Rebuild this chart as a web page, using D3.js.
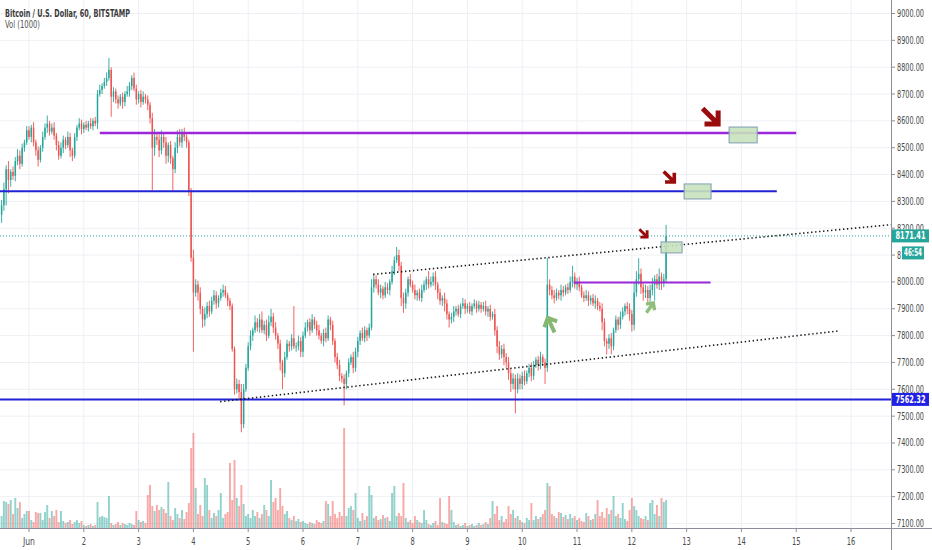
<!DOCTYPE html>
<html>
<head>
<meta charset="utf-8">
<script src="https://cdn.jsdelivr.net/npm/d3@7"></script>
<style>
  html, body { margin: 0; padding: 0; background: #fff; }
  svg { display: block; font-family: "Liberation Sans Narrow", "DejaVu Sans Condensed", "Liberation Sans", sans-serif; }
</style>
</head>
<body>
<div id="chart"></div>
<script>
// hourly candles, first one is May 31 12:00 (hour -12 from Jun 1 00:00)
const startHour = -12;
const firstOpen = 8250;
const lastPrice = 8171.41;
const supportPrice = 7562.32;
const countdown = '46:54';

const dayLabels = ['Jun', '2', '3', '4', '5', '6', '7', '8', '9', '10', '11', '12', '13', '14', '15', '16'];
const priceTicks = [7100, 7200, 7300, 7400, 7500, 7600, 7700, 7800, 7900, 8000,
    8100, 8200, 8300, 8400, 8500, 8600, 8700, 8800, 8900, 9000];

const closes = [
    [8285, 8345, 8420, 8380, 8410, 8395, 8450, 8470, 8440, 8500, 8520, 8565],
    [8540, 8575, 8520, 8490, 8455, 8500, 8540, 8575, 8590, 8560, 8575, 8545, 8510, 8470, 8500, 8530, 8510, 8540, 8490, 8470, 8540, 8575, 8590, 8570],
    [8585, 8575, 8590, 8580, 8600, 8590, 8700, 8715, 8730, 8745, 8760, 8790, 8690, 8710, 8680, 8665, 8690, 8670, 8700, 8710, 8730, 8760, 8720, 8680],
    [8700, 8670, 8690, 8680, 8660, 8610, 8500, 8540, 8530, 8490, 8540, 8520, 8470, 8510, 8460, 8420, 8500, 8540, 8520, 8555, 8540, 8520, 8340, 8090],
    [7960, 7990, 7960, 7900, 7860, 7880, 7910, 7890, 7930, 7950, 7920, 7940, 7960, 7970, 7950, 7930, 7910, 7750, 7600, 7620, 7590, 7470, 7600, 7680],
    [7760, 7800, 7820, 7850, 7830, 7860, 7820, 7840, 7800, 7850, 7870, 7830, 7800, 7770, 7700, 7660, 7720, 7770, 7760, 7790, 7760, 7760, 7780, 7740],
    [7800, 7830, 7850, 7820, 7860, 7840, 7820, 7800, 7780, 7810, 7790, 7860, 7840, 7780, 7720, 7690, 7650, 7640, 7620, 7660, 7700, 7720, 7680, 7740],
    [7780, 7810, 7790, 7820, 7800, 7830, 7980, 8010, 7990, 7960, 7975, 7950, 7980, 7970, 8000, 8040, 8080, 8100, 8060, 7940, 7920, 7960, 8010, 7990],
    [7970, 7950, 7960, 7940, 7970, 7990, 8010, 7990, 8000, 8020, 7990, 7960, 7930, 7940, 7920, 7880, 7860, 7870, 7890, 7900, 7880, 7910, 7920, 7900],
    [7910, 7890, 7910, 7920, 7900, 7915, 7900, 7910, 7890, 7900, 7870, 7880, 7820, 7760, 7730, 7750, 7720, 7700, 7660, 7620, 7640, 7600, 7640, 7620],
    [7650, 7630, 7660, 7680, 7650, 7690, 7710, 7690, 7720, 7700, 7680, 7990, 7970, 7950, 7940, 7960, 7950, 7970, 7960, 7980, 7970, 8000, 8020, 7990],
    [8000, 7980, 7950, 7940, 7950, 7930, 7940, 7920, 7930, 7910, 7900, 7850, 7780, 7770, 7790, 7760, 7820, 7860, 7840, 7870, 7890, 7910, 7900, 7880],
    [7840, 7960, 8010, 8030, 7980, 7960, 7970, 7940, 7970, 7990, 8010, 7990, 8020, 8000, 8010, 8171.41]
];

// wick length above the body / below the body, in dollars
const upperWicks = [
    [20, 25, 15, 30, 10, 20, 15, 25, 20, 15, 10, 15],
    [15, 10, 20, 10, 15, 10, 20, 15, 30, 10, 15, 20, 10, 15, 20, 15, 10, 20, 15, 10, 15, 10, 20, 15],
    [10, 15, 10, 20, 10, 15, 15, 20, 10, 15, 20, 44, 10, 15, 10, 15, 10, 15, 10, 20, 15, 10, 20, 15],
    [10, 15, 20, 10, 15, 10, 20, 30, 15, 20, 25, 15, 20, 10, 15, 10, 20, 25, 30, 15, 20, 10, 10, 10],
    [30, 20, 15, 20, 10, 25, 15, 20, 15, 20, 15, 10, 15, 20, 15, 10, 10, 10, 10, 20, 15, 30, 20, 15],
    [15, 20, 10, 25, 15, 20, 30, 15, 20, 25, 30, 15, 20, 10, 15, 10, 20, 15, 10, 15, 120, 15, 20, 15],
    [15, 20, 10, 15, 20, 10, 15, 20, 10, 15, 20, 15, 10, 15, 10, 15, 20, 10, 15, 10, 15, 10, 20, 15],
    [15, 10, 20, 15, 10, 15, 30, 20, 15, 20, 15, 10, 20, 15, 10, 20, 15, 30, 20, 15, 20, 15, 10, 20],
    [15, 20, 10, 15, 20, 15, 10, 30, 20, 15, 20, 10, 15, 10, 20, 15, 10, 15, 20, 10, 15, 10, 20, 15],
    [10, 15, 10, 15, 10, 15, 10, 15, 20, 10, 15, 10, 20, 15, 20, 15, 20, 15, 20, 15, 20, 15, 20, 15],
    [15, 20, 10, 15, 20, 15, 10, 15, 20, 10, 15, 100, 20, 15, 20, 15, 10, 20, 15, 10, 15, 20, 40, 15],
    [15, 20, 10, 15, 20, 15, 10, 15, 20, 10, 15, 20, 15, 10, 15, 20, 10, 15, 10, 20, 15, 10, 15, 20],
    [15, 40, 30, 58, 20, 15, 20, 15, 20, 25, 15, 20, 30, 15, 20, 41]
];

const lowerWicks = [
    [30, 20, 60, 50, 25, 15, 20, 15, 20, 10, 15, 10],
    [10, 20, 15, 20, 25, 10, 15, 10, 20, 15, 10, 15, 20, 15, 10, 20, 15, 10, 25, 20, 10, 15, 10, 20],
    [15, 10, 15, 10, 15, 10, 20, 10, 15, 10, 15, 10, 75, 20, 15, 20, 10, 25, 15, 10, 20, 15, 10, 20],
    [15, 20, 10, 15, 20, 20, 158, 30, 20, 25, 15, 20, 30, 25, 20, 85, 15, 20, 15, 20, 15, 20, 20, 15],
    [220, 15, 30, 20, 30, 25, 15, 20, 10, 15, 20, 15, 10, 15, 10, 20, 15, 10, 20, 15, 25, 30, 15, 10],
    [10, 15, 20, 10, 15, 20, 10, 15, 20, 10, 15, 20, 15, 20, 30, 60, 15, 10, 20, 15, 10, 20, 15, 20],
    [20, 10, 15, 20, 10, 15, 20, 15, 10, 20, 15, 10, 20, 15, 20, 15, 20, 15, 80, 20, 15, 10, 20, 15],
    [20, 15, 10, 15, 20, 10, 10, 20, 15, 10, 20, 15, 10, 15, 20, 10, 15, 10, 20, 30, 35, 20, 15, 10],
    [10, 15, 20, 10, 15, 10, 20, 15, 10, 15, 20, 25, 15, 20, 30, 20, 30, 15, 20, 15, 10, 15, 10, 20],
    [15, 10, 15, 10, 15, 10, 15, 10, 15, 20, 15, 10, 20, 25, 20, 15, 30, 20, 25, 30, 20, 90, 15, 20],
    [20, 15, 10, 15, 20, 15, 10, 20, 15, 10, 60, 15, 20, 15, 20, 10, 15, 20, 15, 10, 15, 10, 20, 15],
    [20, 15, 10, 15, 10, 20, 15, 10, 20, 15, 10, 30, 20, 40, 20, 30, 15, 10, 20, 15, 10, 15, 20, 25],
    [25, 20, 15, 20, 25, 30, 20, 25, 15, 20, 60, 15, 20, 30, 20, 10]
];

const volumes = [
    [12, 27, 26, 24, 28, 14, 30, 20, 26, 10, 14, 17],
    [17, 8, 6, 16, 15, 15, 8, 16, 23, 10, 17, 12, 18, 6, 17, 7, 5, 6, 8, 4, 6, 8, 5, 7],
    [3, 2, 3, 4, 2, 3, 26, 11, 12, 11, 10, 32, 5, 3, 4, 6, 3, 5, 4, 3, 5, 4, 3, 17],
    [8, 6, 7, 5, 33, 43, 22, 17, 23, 18, 21, 19, 15, 46, 12, 8, 20, 14, 10, 18, 9, 16, 25, 80],
    [95, 40, 14, 23, 12, 50, 43, 18, 10, 15, 12, 18, 35, 10, 14, 16, 65, 28, 68, 30, 22, 43, 24, 12],
    [14, 10, 18, 12, 16, 10, 14, 23, 18, 12, 48, 26, 30, 18, 40, 22, 14, 17, 10, 8, 12, 7, 9, 6],
    [7, 5, 4, 6, 5, 4, 8, 6, 5, 7, 27, 24, 12, 27, 14, 10, 16, 12, 100, 12, 20, 22, 18, 35],
    [10, 7, 15, 8, 12, 42, 33, 10, 12, 8, 9, 13, 10, 11, 7, 35, 42, 12, 15, 12, 45, 10, 6, 8],
    [5, 12, 8, 6, 5, 18, 8, 4, 3, 5, 7, 3, 30, 6, 5, 4, 32, 18, 6, 3, 4, 2, 3, 5],
    [2, 3, 4, 2, 3, 5, 3, 4, 6, 4, 10, 27, 14, 22, 8, 12, 6, 9, 22, 14, 18, 10, 12, 8],
    [6, 5, 10, 8, 25, 8, 12, 9, 11, 14, 18, 45, 42, 14, 12, 10, 16, 15, 11, 13, 9, 14, 10, 12],
    [8, 10, 7, 6, 15, 12, 8, 9, 14, 28, 12, 16, 10, 20, 14, 18, 32, 12, 14, 10, 25, 9, 7, 18],
    [30, 22, 18, 12, 10, 9, 12, 8, 25, 28, 14, 23, 12, 30, 26, 28]
];

// horizontal levels drawn on the chart: price, from hour, to hour (null = chart edge)
const levels = [
    { price: 8555, from: 31, to: 336, kind: 'purple' },
    { price: 8338, from: null, to: 327.5, kind: 'blue' },
    { price: 7998, from: 238.5, to: 298.5, kind: 'purpleThin' },
    { price: supportPrice, from: null, to: null, kind: 'blue' }
];

// channel lines: two points each (hour, price)
const channel = [
    { h1: 150.7, p1: 8028, h2: 293.9, p2: 8145, extend: true },
    { h1: 83.7, p1: 7554, h2: 355.2, p2: 7818, extend: false }
];

const boxes = [
    { h1: 306.6, h2: 318.9, top: 8577, bottom: 8518 },
    { h1: 286.9, h2: 298.7, top: 8365, bottom: 8309 },
    { h1: 276.8, h2: 286.0, top: 8149, bottom: 8108 }
];

// arrow tip (hour, price), direction in degrees on screen
const arrows = [
    { hour: 301.8, price: 8588, angle: 45, kind: 'bigRed' },
    { hour: 282.6, price: 8372, angle: 45, kind: 'red' },
    { hour: 270.7, price: 8167, angle: 45, kind: 'smallRed' },
    { hour: 227.2, price: 7866, angle: -115, kind: 'green' },
    { hour: 273.4, price: 7922, angle: -55, kind: 'smallGreen' }
];

class CandleChart {
    constructor(selector) {
        this.width = 932;
        this.height = 550;
        this.plotRight = 891;
        this.plotBottom = 528;

        this.upColor = '#26a69a';
        this.downColor = '#ef5350';

        this.candles = this.buildCandles();

        this.x = d3.scaleLinear().domain([-12.7, 377.5]).range([0, this.plotRight]);
        this.y = d3.scaleLinear().domain([7100, 9000]).range([523.5, 13.5]);
        this.vy = d3.scaleLinear().domain([0, 100]).range([this.plotBottom, this.plotBottom - 100]);

        this.svg = d3.select(selector)
            .append('svg')
            .attr('width', this.width)
            .attr('height', this.height);

        this.render();
    }

    buildCandles() {
        const c = closes.flat();
        const up = upperWicks.flat();
        const lo = lowerWicks.flat();
        const v = volumes.flat();
        return c.map((close, i) => {
            const open = i === 0 ? firstOpen : c[i - 1];
            return {
                h: startHour + i,
                open: open,
                close: close,
                high: Math.max(open, close) + up[i],
                low: Math.min(open, close) - lo[i],
                volume: v[i],
                up: close >= open
            };
        });
    }

    // the installed fonts are wider than the narrow face of the original, so squeeze text to width
    squeeze(sel, width) {
        return sel.attr('textLength', width).attr('lengthAdjust', 'spacingAndGlyphs');
    }

    render() {
        this.svg.append('defs').append('clipPath').attr('id', 'plotClip')
            .append('rect').attr('x', 0).attr('y', 0)
            .attr('width', this.plotRight).attr('height', this.plotBottom);

        this.plot = this.svg.append('g').attr('clip-path', 'url(#plotClip)');

        this.drawGrid();
        this.drawVolume();
        this.drawCandles();
        this.drawLevels();
        this.drawChannel();
        this.drawBoxes();
        this.drawArrows();
        this.drawAxes();
        this.drawHeader();
    }

    drawGrid() {
        const grid = this.plot.append('g');
        grid.selectAll('line.v')
            .data(dayLabels)
            .enter().append('line')
            .attr('x1', (d, i) => this.x(i * 24))
            .attr('x2', (d, i) => this.x(i * 24))
            .attr('y1', 0).attr('y2', this.plotBottom)
            .attr('stroke', '#eef0f5').attr('stroke-width', 1);

        grid.selectAll('line.h')
            .data(priceTicks)
            .enter().append('line')
            .attr('x1', 0).attr('x2', this.plotRight)
            .attr('y1', d => this.y(d)).attr('y2', d => this.y(d))
            .attr('stroke', '#eef0f5').attr('stroke-width', 1);
    }

    drawVolume() {
        const bw = 1.9;
        this.plot.append('g')
            .selectAll('rect')
            .data(this.candles)
            .enter().append('rect')
            .attr('x', d => this.x(d.h) - bw / 2)
            .attr('width', bw)
            .attr('y', d => this.vy(d.volume))
            .attr('height', d => this.plotBottom - this.vy(d.volume))
            .attr('fill', d => d.up ? this.upColor : this.downColor)
            .attr('fill-opacity', 0.5);
    }

    drawCandles() {
        const g = this.plot.append('g');
        const bw = 1.5;
        g.selectAll('line')
            .data(this.candles)
            .enter().append('line')
            .attr('x1', d => this.x(d.h)).attr('x2', d => this.x(d.h))
            .attr('y1', d => this.y(d.high)).attr('y2', d => this.y(d.low))
            .attr('stroke', d => d.up ? this.upColor : this.downColor)
            .attr('stroke-width', 0.9);

        g.selectAll('rect')
            .data(this.candles)
            .enter().append('rect')
            .attr('x', d => this.x(d.h) - bw / 2)
            .attr('width', bw)
            .attr('y', d => this.y(Math.max(d.open, d.close)))
            .attr('height', d => Math.max(1, Math.abs(this.y(d.open) - this.y(d.close))))
            .attr('fill', d => d.up ? this.upColor : this.downColor);
    }

    drawLevels() {
        const styles = {
            purple: { color: '#9c27d8', width: 2.6 },
            purpleThin: { color: '#9c27d8', width: 2 },
            blue: { color: '#2323d6', width: 2 }
        };
        const xMin = this.x.domain()[0];
        const xMax = this.x.domain()[1];

        // last price, dotted teal
        this.plot.append('line')
            .attr('x1', 0).attr('x2', this.plotRight)
            .attr('y1', this.y(lastPrice)).attr('y2', this.y(lastPrice))
            .attr('stroke', this.upColor).attr('stroke-width', 1)
            .attr('stroke-dasharray', '1,2');

        this.plot.append('g')
            .selectAll('line')
            .data(levels)
            .enter().append('line')
            .attr('x1', d => this.x(d.from === null ? xMin : d.from))
            .attr('x2', d => this.x(d.to === null ? xMax : d.to))
            .attr('y1', d => this.y(d.price)).attr('y2', d => this.y(d.price))
            .attr('stroke', d => styles[d.kind].color)
            .attr('stroke-width', d => styles[d.kind].width);
    }

    drawChannel() {
        const xMax = this.x.domain()[1];
        this.plot.append('g')
            .selectAll('line')
            .data(channel)
            .enter().append('line')
            .attr('x1', d => this.x(d.h1))
            .attr('y1', d => this.y(d.p1))
            .attr('x2', d => this.x(d.extend ? xMax : d.h2))
            .attr('y2', d => {
                if (!d.extend) return this.y(d.p2);
                const slope = (d.p2 - d.p1) / (d.h2 - d.h1);
                return this.y(d.p1 + slope * (xMax - d.h1));
            })
            .attr('stroke', '#1a1a1a')
            .attr('stroke-width', 1.6)
            .attr('stroke-dasharray', '1.4,2.6');
    }

    drawBoxes() {
        this.plot.append('g')
            .selectAll('rect')
            .data(boxes)
            .enter().append('rect')
            .attr('x', d => this.x(d.h1))
            .attr('y', d => this.y(d.top))
            .attr('width', d => this.x(d.h2) - this.x(d.h1))
            .attr('height', d => this.y(d.bottom) - this.y(d.top))
            .attr('fill', '#c8e2bd')
            .attr('fill-opacity', 0.9)
            .attr('stroke', '#7f9cb3')
            .attr('stroke-width', 1);
    }

    drawArrows() {
        const styles = {
            bigRed: { color: '#9a0c0c', size: 22, weight: 5 },
            red: { color: '#9a0c0c', size: 15, weight: 3.6 },
            smallRed: { color: '#9a0c0c', size: 11, weight: 2.8 },
            green: { color: '#86b872', size: 16, weight: 4 },
            smallGreen: { color: '#8fbe7c', size: 12, weight: 3.4 }
        };

        const g = this.plot.append('g');
        arrows.forEach(a => {
            const s = styles[a.kind];
            const tx = this.x(a.hour);
            const ty = this.y(a.price);
            const ang = a.angle * Math.PI / 180;
            const sx = tx - Math.cos(ang) * s.size;
            const sy = ty - Math.sin(ang) * s.size;
            const head = s.size * 0.62;
            const a1 = ang + Math.PI * 3 / 4;
            const a2 = ang - Math.PI * 3 / 4;

            const path = d3.path();
            path.moveTo(sx, sy);
            path.lineTo(tx - Math.cos(ang) * s.weight * 0.5, ty - Math.sin(ang) * s.weight * 0.5);
            path.moveTo(tx + Math.cos(a1) * head, ty + Math.sin(a1) * head);
            path.lineTo(tx, ty);
            path.lineTo(tx + Math.cos(a2) * head, ty + Math.sin(a2) * head);

            g.append('path')
                .attr('d', path.toString())
                .attr('fill', 'none')
                .attr('stroke', s.color)
                .attr('stroke-width', s.weight)
                .attr('stroke-linejoin', 'miter')
                .attr('stroke-linecap', 'butt');
        });
    }

    drawAxes() {
        const axisColor = '#8b8e96';
        const textColor = '#4a4a4a';
        const fmt = d3.format('.2f');

        // right price axis
        const right = this.svg.append('g');
        right.append('line')
            .attr('x1', this.plotRight + 0.5).attr('x2', this.plotRight + 0.5)
            .attr('y1', 0).attr('y2', this.height)
            .attr('stroke', axisColor).attr('stroke-width', 1);

        right.selectAll('line.tick')
            .data(priceTicks)
            .enter().append('line')
            .attr('x1', this.plotRight + 1).attr('x2', this.plotRight + 4)
            .attr('y1', d => this.y(d)).attr('y2', d => this.y(d))
            .attr('stroke', axisColor);

        const priceLabels = right.selectAll('text')
            .data(priceTicks)
            .enter().append('text')
            .attr('x', this.plotRight + 6)
            .attr('y', d => this.y(d))
            .attr('dy', '0.35em')
            .attr('font-size', 10)
            .attr('fill', textColor)
            .text(d => fmt(d));
        this.squeeze(priceLabels, 27);

        // bottom time axis
        const bottom = this.svg.append('g');
        bottom.append('line')
            .attr('x1', 0).attr('x2', this.width)
            .attr('y1', this.plotBottom + 0.5).attr('y2', this.plotBottom + 0.5)
            .attr('stroke', axisColor).attr('stroke-width', 1);

        bottom.selectAll('line.tick')
            .data(dayLabels)
            .enter().append('line')
            .attr('x1', (d, i) => this.x(i * 24)).attr('x2', (d, i) => this.x(i * 24))
            .attr('y1', this.plotBottom + 1).attr('y2', this.plotBottom + 4)
            .attr('stroke', axisColor);

        bottom.selectAll('text')
            .data(dayLabels)
            .enter().append('text')
            .attr('x', (d, i) => this.x(i * 24))
            .attr('y', 545)
            .attr('text-anchor', 'middle')
            .attr('font-size', 10.5)
            .attr('fill', textColor)
            .attr('textLength', d => d === 'Jun' ? 12 : d.length * 4.3)
            .attr('lengthAdjust', 'spacingAndGlyphs')
            .text(d => d);

        // price tags on the axis
        this.priceTag(lastPrice, fmt(lastPrice), this.upColor, 0, 37, 1, 30);
        this.priceTag(lastPrice, countdown, this.upColor, 17, 22, 11, 18);
        this.priceTag(supportPrice, fmt(supportPrice), '#2121e6', 0, 37, 1, 30);
    }

    priceTag(price, label, color, dy, w, dx, textW) {
        const cy = this.y(price) + dy;
        const g = this.svg.append('g');
        g.append('rect')
            .attr('x', this.plotRight + dx)
            .attr('y', cy - 6.5)
            .attr('width', w)
            .attr('height', 13)
            .attr('fill', color);
        const t = g.append('text')
            .attr('x', this.plotRight + dx + w / 2)
            .attr('y', cy)
            .attr('dy', '0.35em')
            .attr('text-anchor', 'middle')
            .attr('font-size', 10)
            .attr('font-weight', 'bold')
            .attr('fill', '#fff')
            .text(label);
        this.squeeze(t, textW);
    }

    drawHeader() {
        const title = this.svg.append('text')
            .attr('x', 5).attr('y', 16.5)
            .attr('font-size', 10.5)
            .attr('font-weight', 'bold')
            .attr('fill', '#3a3a3a')
            .text('Bitcoin / U.S. Dollar, 60, BITSTAMP');
        this.squeeze(title, 125);

        const vol = this.svg.append('text')
            .attr('x', 5).attr('y', 28)
            .attr('font-size', 10)
            .attr('fill', '#555')
            .text('Vol (1000)');
        this.squeeze(vol, 35);
    }
}

document.addEventListener('DOMContentLoaded', () => {
    new CandleChart('#chart');
});
</script>
</body>
</html>
